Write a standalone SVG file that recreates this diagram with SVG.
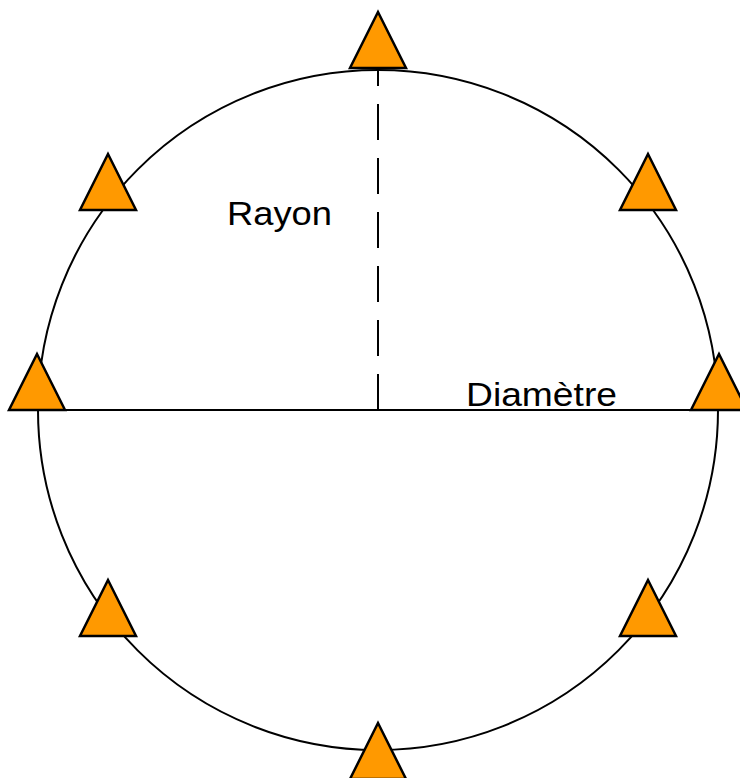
<svg xmlns="http://www.w3.org/2000/svg" width="740" height="778" viewBox="0 0 740 778">
<style>
.tri{fill:#ff9900;stroke:#000;stroke-width:2.5;stroke-linejoin:miter}
.ln{stroke:#000;stroke-width:2;fill:none}
.lbl{font-family:"Liberation Sans",Arial,sans-serif;font-size:34px;fill:#000}
</style>
<defs>
<polygon id="t" points="0,0 28,56 -28,56"/>
</defs>
<rect width="740" height="778" fill="#fff"/>
<g id="connectors">
<circle class="ln" cx="378" cy="410" r="340"/>
<line class="ln" x1="37" y1="410" x2="719" y2="410"/>
<line class="ln" x1="378" y1="410" x2="378" y2="68" stroke-width="3" stroke-dasharray="36 18"/>
</g>
<g id="n-top"><use href="#t" class="tri" x="378" y="12"/></g>
<g id="n-ul"><use href="#t" class="tri" x="108" y="154"/></g>
<g id="n-ur"><use href="#t" class="tri" x="648" y="154"/></g>
<g id="n-left"><use href="#t" class="tri" x="37" y="354"/></g>
<g id="n-right"><use href="#t" class="tri" x="719" y="354"/></g>
<g id="n-ll"><use href="#t" class="tri" x="108" y="580"/></g>
<g id="n-lr"><use href="#t" class="tri" x="648" y="580"/></g>
<g id="n-bottom"><use href="#t" class="tri" x="378" y="723"/></g>
<g id="labels">
<text class="lbl" x="227" y="225" textLength="105" lengthAdjust="spacingAndGlyphs">Rayon</text>
<text class="lbl" x="466" y="406" textLength="151" lengthAdjust="spacingAndGlyphs">Diamètre</text>
</g>
</svg>
